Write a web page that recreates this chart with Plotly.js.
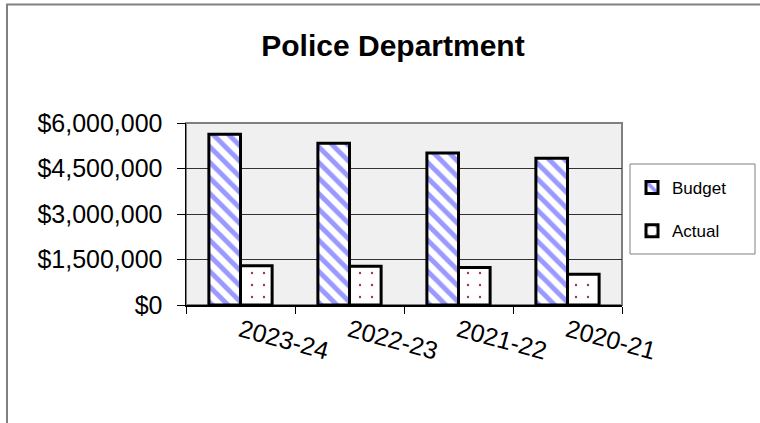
<!DOCTYPE html>
<html>
<head>
<meta charset="utf-8">
<script src="https://cdn.plot.ly/plotly-3.0.1.min.js"></script>
<style>html,body{margin:0;padding:0;background:#fff;}#chart{width:760px;height:423px;}</style>
</head>
<body>
<div id="chart"></div>
<script>
const categories = ["2023-24", "2022-23", "2021-22", "2020-21"];
const budget = [5630000, 5330000, 5010000, 4840000];
const actual = [1290000, 1280000, 1240000, 1010000];
const yTickVals = [0, 1500000, 3000000, 4500000, 6000000];
const yTickText = ["$0", "$1,500,000", "$3,000,000", "$4,500,000", "$6,000,000"];

// plot area in pixels: x 186..622, y 123..305
const L = 186, R = 622, T = 123, B = 305;
const W = 760, H = 423;
const px = x => (x - L) / (R - L);
const py = y => (B - y) / (B - T);

const traces = [
  {
    type: "bar", name: "Budget", x: categories, y: budget,
    legendgroup: "b",
    marker: {
      color: "#ffffff",
      line: {color: "#000000", width: 3},
      pattern: {shape: "\\", fgcolor: "#9999ff", bgcolor: "#ffffff", fillmode: "replace", size: 11, solidity: 0.45}
    },
    hoverinfo: "skip"
  },
  {
    type: "bar", name: "Actual", x: categories, y: actual,
    legendgroup: "a",
    marker: {
      color: "#ffffff",
      line: {color: "#000000", width: 3},
      pattern: {shape: ".", fgcolor: "#993366", bgcolor: "#ffffff", fillmode: "replace", size: 12, solidity: 0.03}
    },
    hoverinfo: "skip"
  }
];

const layout = {
  width: W, height: H,
  margin: {l: L, r: W - R, t: T, b: H - B, pad: 0},
  paper_bgcolor: "#ffffff",
  plot_bgcolor: "#f0f0f0",
  font: {family: "Liberation Sans, Arial, sans-serif", color: "#000000"},
  title: {
    text: "<b>Police Department</b>",
    font: {size: 30, family: "Liberation Sans, Arial, sans-serif", color: "#000"},
    x: 393 / W, xanchor: "center", xref: "container",
    y: 1 - 45 / H, yanchor: "middle", yref: "container"
  },
  barmode: "group",
  bargap: 0.42,
  bargroupgap: 0,
  xaxis: {
    type: "category",
    tickson: "boundaries",
    ticks: "outside", ticklen: 7, tickcolor: "#000", tickwidth: 1,
    showline: true, linecolor: "#000", linewidth: 1.5,
    showgrid: false,
    tickangle: 15,
    tickfont: {size: 25},
    zeroline: false
  },
  yaxis: {
    range: [0, 6000000],
    tickmode: "array",
    tickvals: yTickVals,
    ticktext: yTickText,
    ticks: "outside", ticklen: 8, tickcolor: "#000", tickwidth: 1,
    ticklabelstandoff: 9,
    showline: true, linecolor: "#000", linewidth: 1.5,
    showgrid: true, gridcolor: "#333333", gridwidth: 1,
    tickfont: {size: 25},
    zeroline: false
  },
  legend: {
    x: px(632), xanchor: "left",
    y: py(170), yanchor: "top",
    bgcolor: "rgba(0,0,0,0)", borderwidth: 0,
    font: {size: 17},
    traceorder: "grouped", tracegroupgap: 18,
    itemwidth: 30
  },
  shapes: [
    {type: "rect", xref: "paper", yref: "paper", x0: px(7), x1: px(775), y0: py(4.5), y1: py(440),
     line: {color: "#808080", width: 2}, fillcolor: "rgba(0,0,0,0)", layer: "below"},
    {type: "rect", xref: "paper", yref: "paper", x0: 0, x1: 1, y0: 0, y1: 1,
     line: {color: "#808080", width: 2}, fillcolor: "rgba(0,0,0,0)", layer: "below"},
    {type: "rect", xref: "paper", yref: "paper", x0: px(630), x1: px(755), y0: py(254), y1: py(164),
     line: {color: "#808080", width: 1}, fillcolor: "rgba(0,0,0,0)", layer: "above"}
  ]
};

Plotly.newPlot("chart", traces, layout, {displayModeBar: false, staticPlot: true});
</script>
</body>
</html>
